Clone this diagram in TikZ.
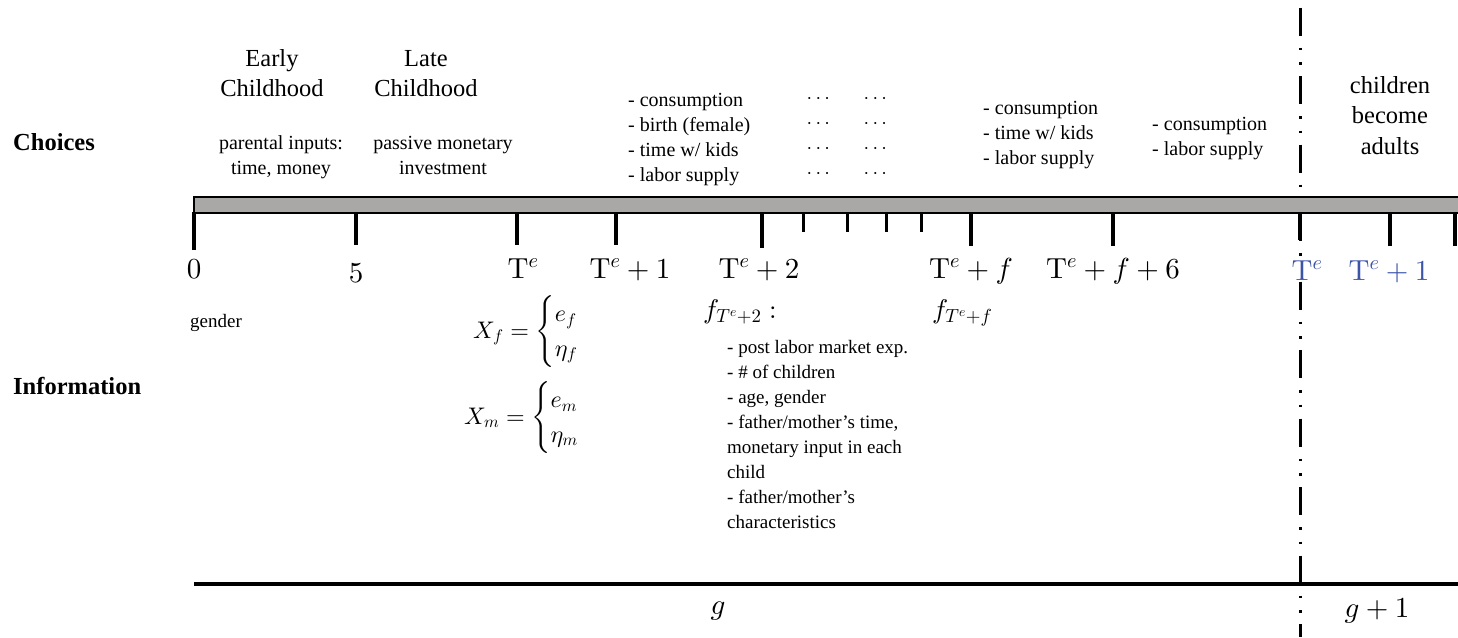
\documentclass[tikz,border=0pt]{standalone}
\usepackage{amsmath}
\usepackage[no-math]{fontspec}
\setmainfont{Liberation Serif}
\DeclareFontShape{OT1}{cmr}{m}{n}{<->cmr10}{}
\DeclareFontShape{OML}{cmm}{m}{it}{<->cmmi10}{}
\DeclareFontShape{OMS}{cmsy}{m}{n}{<->cmsy10}{}
\DeclareFontShape{OMX}{cmex}{m}{n}{<->cmex10}{}
\definecolor{bargray}{RGB}{170,167,167}
\definecolor{tblue}{RGB}{60,84,168}
\tikzset{
  bigtxt/.style={font=\fontsize{24.5}{29.5}\selectfont, inner sep=0, align=center, anchor=base},
  smtxt/.style={font=\fontsize{20}{25}\selectfont, inner sep=0, align=center, anchor=base},
  lst/.style={font=\fontsize{20}{25}\selectfont, inner sep=0, align=left, anchor=base west},
  infolst/.style={font=\fontsize{19}{24.9}\selectfont, inner sep=0, align=left, anchor=base west},
  hdr/.style={font=\fontsize{24.5}{30}\selectfont\bfseries, inner sep=0, anchor=base west},
  ticklbl/.style={font=\fontsize{29}{32}\selectfont, inner sep=0, anchor=base},
  eqn/.style={font=\fontsize{24}{29}\selectfont, inner sep=0},
  flbl/.style={font=\fontsize{27}{30}\selectfont, inner sep=0, anchor=base west},
  dotsl/.style={font=\fontsize{20}{25}\selectfont, inner sep=0, anchor=base},
  majtick/.style={line width=3.5pt},
  mintick/.style={line width=3pt},
}
\begin{document}
\begin{tikzpicture}[x=1pt,y=-1pt]
\useasboundingbox (0,0) rectangle (1458,637);

% generation separator (dash-dot)
\draw[line width=3pt, dash pattern=on 28pt off 12pt on 2.5pt off 12pt on 2.5pt off 11.5pt, dash phase=61pt] (1300,0) -- (1300,637);

% time bar
\draw[line width=2.2pt, fill=bargray] (194,197) rectangle (1475,213);

% tick anchor points
\coordinate (c0) at (194,212);
\coordinate (c5) at (356,212);
\coordinate (cTe) at (517,212);
\coordinate (cTe1) at (616,212);
\coordinate (cTe2) at (762,212);
\coordinate (cs1) at (803,212);
\coordinate (cs2) at (847,212);
\coordinate (cs3) at (886,212);
\coordinate (cs4) at (921,212);
\coordinate (cTf) at (971,212);
\coordinate (cTf6) at (1113,212);
\coordinate (cN) at (1300,212);
\coordinate (cN1) at (1390,212);
\coordinate (cN2) at (1455,212);

\draw[majtick] (c0) -- ++(0,38);
\draw[majtick] (c5) -- ++(0,33);
\draw[majtick] (cTe) -- ++(0,33);
\draw[majtick] (cTe1) -- ++(0,33);
\draw[majtick] (cTe2) -- ++(0,36);
\foreach \c in {cs1,cs2,cs3,cs4} \draw[mintick] (\c) -- ++(0,20);
\draw[majtick] (cTf) -- ++(0,34);
\draw[majtick] (cTf6) -- ++(0,34);
\draw[majtick] (cN) -- ++(0,28);
\draw[majtick] (cN1) -- ++(0,34);
\draw[majtick] (cN2) -- ++(0,34);

% tick labels
\node[ticklbl] (l0) at (194,278) {$0$};
\node[ticklbl] (l5) at (356,282) {$5$};
\node[ticklbl] (lTe) at (523,278) {$\mathrm{T}^e$};
\node[ticklbl] (lTe1) at (630,278) {$\mathrm{T}^e+1$};
\node[ticklbl] (lTe2) at (759,278) {$\mathrm{T}^e+2$};
\node[ticklbl] (lTf) at (971,278) {$\mathrm{T}^e+f$};
\node[ticklbl] (lTf6) at (1113,278) {$\mathrm{T}^e+f+6$};
\node[ticklbl, text=tblue, fill=white, inner sep=1pt] (lN) at (1307,280) {$\mathrm{T}^e$};
\node[ticklbl, text=tblue] (lN1) at (1389,280) {$\mathrm{T}^e+1$};

% row headers
\node[hdr] (choices) at (13,150) {Choices};
\node[hdr] (info) at (13,394) {Information};

% choices texts (base = last line)
\node[bigtxt] (early) at (272,96) {Early\\Childhood};
\node[bigtxt] (late) at (426,96) {Late\\Childhood};
\node[smtxt] (parin) at (281,174) {parental inputs:\\time, money};
\node[smtxt] (passive) at (443,174) {passive monetary\\investment};
\node[lst] (ch1) at (628,181) {- consumption\\- birth (female)\\- time w/ kids\\- labor supply};
\node[dotsl, align=center] (dots1) at (820,178) {$\cdots$\\$\cdots$\\$\cdots$\\$\cdots$};
\node[dotsl, align=center] (dots2) at (877,178) {$\cdots$\\$\cdots$\\$\cdots$\\$\cdots$};
\node[lst] (ch2) at (983,164) {- consumption\\- time w/ kids\\- labor supply};
\node[lst] (ch3) at (1152,155) {- consumption\\- labor supply};
\node[bigtxt, font=\fontsize{24.5}{30.5}\selectfont] (adults) at (1390,154) {children\\become\\adults};

% information texts
\node[lst, font=\fontsize{19}{24}\selectfont] (gender) at (190,327) {gender};
\node[eqn, anchor=west] (xf) at (473,332) {$X_f=\begin{cases}e_f\\ \eta_f\end{cases}$};
\node[eqn, anchor=west] (xm) at (464,418) {$X_m=\begin{cases}e_m\\ \eta_m\end{cases}$};
\node[flbl] (fT2) at (703,318) {$f_{T^e+2}:$};
\node[flbl] (fTf) at (932,318) {$f_{T^e+f}$};
\node[infolst] (infolist) at (727,528) {- post labor market exp.\\- \# of children\\- age, gender\\- father/mother's time,\\monetary input in each\\child\\- father/mother's\\characteristics};

% generation axis
\coordinate (gL) at (194,584);
\coordinate (gR) at (1460,584);
\draw[line width=4pt] (gL) -- (gR);
\node[ticklbl, anchor=center, font=\fontsize{29}{32}\selectfont] (g) at (718,611) {$g$};
\node[ticklbl, anchor=center, font=\fontsize{29}{32}\selectfont] (g1) at (1377,611) {$g+1$};
\end{tikzpicture}
\end{document}
